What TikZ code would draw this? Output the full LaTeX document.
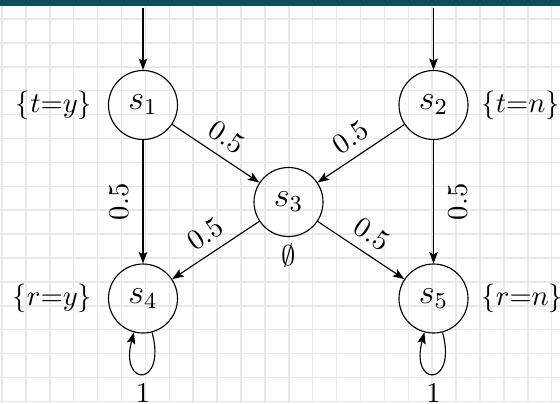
\documentclass[tikz,border=0pt]{standalone}
\usepackage{amsmath,amssymb}
\usepackage{tikz}
\usetikzlibrary{calc,arrows.meta}
\definecolor{smuha}{RGB}{12,78,94}
\definecolor{sitka}{RGB}{232,232,232}

\begin{document}
\begin{tikzpicture}[x=0.35pt,y=0.35pt,
        >={Stealth[length=4pt,width=3pt,inset=0.8pt]},
        stan/.style={draw,circle,minimum size=24.15pt,inner sep=0pt,font=\large}]
        % Рамка 560x403 пікселів, 1 піксель = 0.35pt
        \useasboundingbox (0,0) rectangle (560,403);

        % Сітка на фоні (крок ~24 пікселі)
        \foreach \i in {0,...,23} \draw[sitka,line width=0.5pt] ({2+23.9*\i},0) -- ++(0,403);
        \foreach \j in {0,...,16} \draw[sitka,line width=0.5pt] (0,{384-23.9*\j}) -- ++(560,0);

        % Смуга зверху
        \fill[smuha] (0,397) rectangle (560,403);

        % Стани
        \node[stan] (s1) at (143,298) {$s_1$};
        \node[stan] (s2) at (433.5,298) {$s_2$};
        \node[stan] (s3) at (288.5,201) {$s_3$};
        \node[stan] (s4) at (143,104.5) {$s_4$};
        \node[stan] (s5) at (433.5,104.5) {$s_5$};

        % Початкові стрілки йдуть від смуги
        \coordinate (p1) at (143,395);
        \coordinate (p2) at (433.5,395);

        % Мітки станів
        \node[left=2pt] (l1) at (s1.west) {$\{t{=}y\}$};
        \node[right=1pt] (l2) at (s2.east) {$\{t{=}n\}$};
        \node[below=-1pt] (l3) at (s3.south) {$\emptyset$};
        \node[left=2pt] (l4) at (s4.west) {$\{r{=}y\}$};
        \node[right=1pt] (l5) at (s5.east) {$\{r{=}n\}$};

        % Переходи
        \draw[->] (p1) -- (s1);
        \draw[->] (p2) -- (s2);
        \draw[->] (s1) -- node[above,sloped] {$0.5$} (s3);
        \draw[->] (s2) -- node[above,sloped] {$0.5$} (s3);
        \draw[->] (s1) -- node[anchor=south,rotate=90,inner sep=5pt] {$0.5$} (s4);
        \draw[->] (s2) -- node[anchor=north,rotate=90,inner sep=5pt] {$0.5$} (s5);
        \draw[->] (s3) -- node[above,sloped] {$0.5$} (s4);
        \draw[->] (s3) -- node[above,sloped] {$0.5$} (s5);

        % Петлі знизу
        \draw[->] (s4) to[loop,out=-75,in=-105,min distance=20pt] node[below] {$1$} (s4);
        \draw[->] (s5) to[loop,out=-75,in=-105,min distance=20pt] node[below] {$1$} (s5);
    \end{tikzpicture}
\end{document}
